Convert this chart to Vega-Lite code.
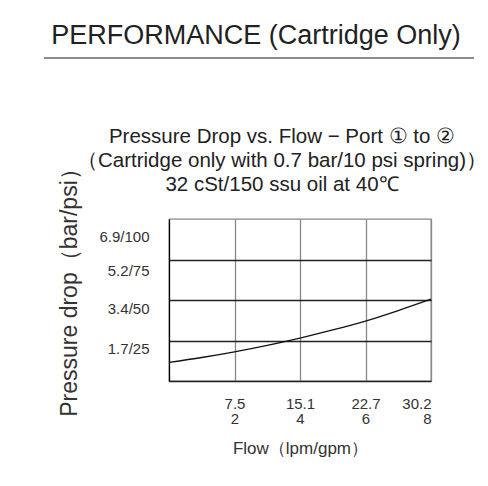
{
  "$schema": "https://vega.github.io/schema/vega-lite/v6.json",
  "padding": {"top": 22, "left": 43, "right": 5, "bottom": 5},
  "background": "white",
  "config": {
    "font": "Liberation Sans",
    "view": {"stroke": null},
    "title": {"fontWeight": "normal", "color": "#222"},
    "axis": {"labelColor": "#333", "titleColor": "#333", "titleFontWeight": "normal"}
  },
  "spacing": 67,
  "vconcat": [
    {
      "width": 430,
      "height": 1,
      "title": {"text": "PERFORMANCE (Cartridge Only)", "fontSize": 27, "offset": 7, "anchor": "middle", "dx": -3},
      "data": {"values": [{"v": 0}]},
      "mark": {"type": "rule", "color": "#666", "strokeWidth": 1.5},
      "encoding": {
        "y": {"field": "v", "type": "quantitative", "scale": {"domain": [0, 1]}, "axis": null}
      }
    },
    {
      "spacing": 13,
      "hconcat": [
        {
          "width": 1,
          "height": 1,
          "data": {"values": []},
          "mark": "point"
        },
        {
          "width": 262,
          "height": 162,
          "view": {"stroke": "#888", "strokeWidth": 1.3},
          "title": {
            "text": ["Pressure Drop vs. Flow − Port ① to ②", "（Cartridge only with 0.7 bar/10 psi spring)）", "32 cSt/150 ssu oil at 40℃"],
            "fontSize": 20.5,
            "lineHeight": 24,
            "offset": -38.5,
            "anchor": "middle",
            "dx": -18
          },
          "data": {"values": [
            {"gpm": 0, "psi": 11.5},
            {"gpm": 1, "psi": 14.5},
            {"gpm": 2, "psi": 18},
            {"gpm": 3, "psi": 22},
            {"gpm": 4, "psi": 26.5},
            {"gpm": 5, "psi": 31.5},
            {"gpm": 6, "psi": 37},
            {"gpm": 7, "psi": 43.5},
            {"gpm": 8, "psi": 50.5}
          ]},
          "mark": {"type": "line", "color": "#111", "strokeWidth": 1.3, "interpolate": "monotone"},
          "encoding": {
            "x": {
              "field": "gpm", "type": "quantitative",
              "scale": {"domain": [0, 8], "nice": false},
              "axis": {
                "values": [2, 4, 6, 8],
                "labelExpr": "datum.value == 2 ? ['7.5', '2'] : datum.value == 4 ? ['15.1', '4'] : datum.value == 6 ? ['22.7', '6'] : ['30.2', '8']",
                "labelFontSize": 15,
                "labelLineHeight": 15,
                "labelPadding": 15,
                "labelBaseline": "top",
                "ticks": false,
                "domainColor": "#222",
                "domainWidth": 1.3,
                "grid": true,
                "gridColor": "#888",
                "gridWidth": 1.3,
                "gridOpacity": 1,
                "title": "Flow（lpm/gpm）",
                "titleFontSize": 17,
                "titlePadding": 14
              }
            },
            "y": {
              "field": "psi", "type": "quantitative",
              "scale": {"domain": [0, 100], "nice": false},
              "axis": {
                "values": [25, 50, 75, 100],
                "labelExpr": "datum.value == 25 ? '1.7/25' : datum.value == 50 ? '3.4/50' : datum.value == 75 ? '5.2/75' : '6.9/100'",
                "labelFontSize": 15,
                "labelPadding": 20,
                "labelOffset": {"condition": [{"test": "datum.value == 100", "value": 17}, {"test": "datum.value == 75", "value": 11}], "value": 8},
                "ticks": false,
                "domainColor": "#000",
                "domainWidth": 1.3,
                "grid": true,
                "gridColor": "#222",
                "gridWidth": 1.3,
                "gridOpacity": {"condition": {"test": "datum.value == 100", "value": 0}, "value": 1},
                "title": "Pressure drop（bar/psi）",
                "titleFontSize": 23,
                "titlePadding": 17,
                "titleY": 67.5
              }
            }
          }
        }
      ]
    }
  ]
}
